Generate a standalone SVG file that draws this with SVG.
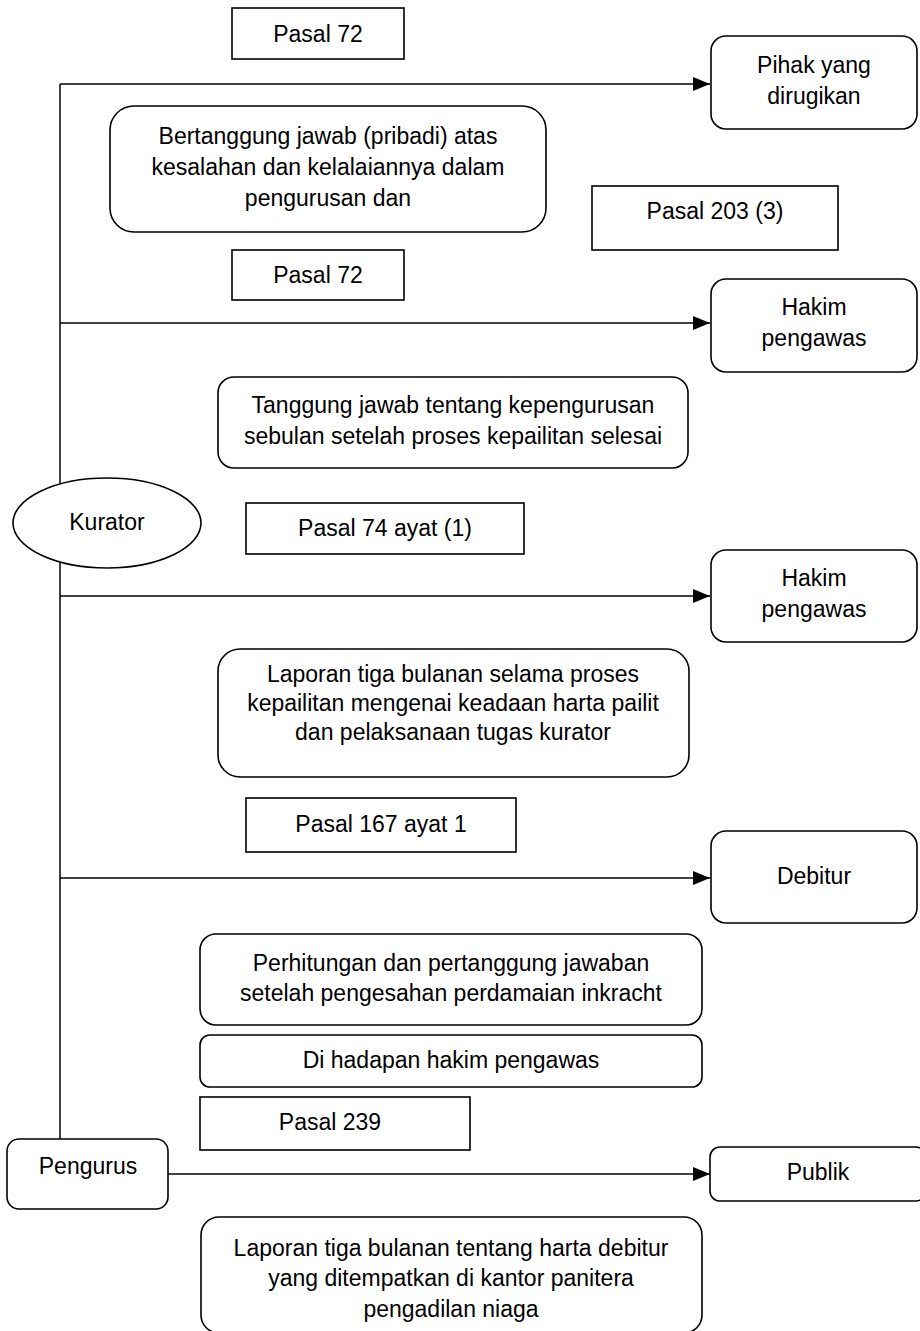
<svg xmlns="http://www.w3.org/2000/svg" width="920" height="1331" viewBox="0 0 920 1331">
  <style>
    .box { fill: #ffffff; stroke: #000000; stroke-width: 1.6; }
    .line { fill: none; stroke: #000000; stroke-width: 1.5; }
    text { font-family: "Liberation Sans", Arial, sans-serif; font-size: 23px; fill: #000000; text-anchor: middle; }
  </style>
  <defs>
    <marker id="arrow" viewBox="0 0 17 14" refX="17" refY="7" markerWidth="17" markerHeight="14" markerUnits="userSpaceOnUse" orient="auto">
      <path d="M0,0 L17,7 L0,14 Z" fill="#000000"/>
    </marker>
    <clipPath id="clip-laporan-publik">
      <rect x="201" y="1217" width="501" height="105"/>
    </clipPath>
  </defs>

  <!-- connectors -->
  <g id="connectors">
    <path class="line" d="M60,84 L60,1139"/>
    <path class="line" d="M60,84 L710,84" marker-end="url(#arrow)"/>
    <path class="line" d="M60,323 L710,323" marker-end="url(#arrow)"/>
    <path class="line" d="M60,596 L710,596" marker-end="url(#arrow)"/>
    <path class="line" d="M60,878 L710,878" marker-end="url(#arrow)"/>
    <path class="line" d="M168,1174 L710,1174" marker-end="url(#arrow)"/>
  </g>

  <!-- source nodes -->
  <g id="kurator">
    <ellipse class="box" cx="107" cy="523" rx="94" ry="45"/>
    <text x="107" y="530">Kurator</text>
  </g>
  <g id="pengurus">
    <rect class="box" x="7" y="1139" width="161" height="70" rx="12"/>
    <text x="88" y="1174">Pengurus</text>
  </g>

  <!-- target nodes -->
  <g id="pihak-dirugikan">
    <rect class="box" x="711" y="36" width="206" height="93" rx="15"/>
    <text x="814" y="73">Pihak yang</text>
    <text x="814" y="104">dirugikan</text>
  </g>
  <g id="hakim-pengawas-1">
    <rect class="box" x="711" y="279" width="206" height="93" rx="15"/>
    <text x="814" y="315">Hakim</text>
    <text x="814" y="346">pengawas</text>
  </g>
  <g id="hakim-pengawas-2">
    <rect class="box" x="711" y="550" width="206" height="92" rx="15"/>
    <text x="814" y="586">Hakim</text>
    <text x="814" y="617">pengawas</text>
  </g>
  <g id="debitur">
    <rect class="box" x="711" y="831" width="206" height="92" rx="15"/>
    <text x="814" y="884">Debitur</text>
  </g>
  <g id="publik">
    <rect class="box" x="710" y="1147" width="216" height="54" rx="10"/>
    <text x="818" y="1180">Publik</text>
  </g>

  <!-- article references -->
  <g id="pasal-72-a">
    <rect class="box" x="232" y="8" width="172" height="51"/>
    <text x="318" y="42">Pasal 72</text>
  </g>
  <g id="pasal-203-3">
    <rect class="box" x="592" y="186" width="246" height="64"/>
    <text x="715" y="219">Pasal 203 (3)</text>
  </g>
  <g id="pasal-72-b">
    <rect class="box" x="232" y="250" width="172" height="50"/>
    <text x="318" y="283">Pasal 72</text>
  </g>
  <g id="pasal-74">
    <rect class="box" x="246" y="503" width="278" height="51"/>
    <text x="385" y="536">Pasal 74 ayat (1)</text>
  </g>
  <g id="pasal-167">
    <rect class="box" x="246" y="798" width="270" height="54"/>
    <text x="381" y="832">Pasal 167 ayat 1</text>
  </g>
  <g id="pasal-239">
    <rect class="box" x="200" y="1097" width="270" height="53"/>
    <text x="330" y="1130">Pasal 239</text>
  </g>

  <!-- descriptions -->
  <g id="desc-tanggung-jawab-pribadi">
    <rect class="box" x="110" y="106" width="436" height="126" rx="24"/>
    <text x="328" y="144">Bertanggung jawab (pribadi) atas</text>
    <text x="328" y="175">kesalahan dan kelalaiannya dalam</text>
    <text x="328" y="206">pengurusan dan</text>
  </g>
  <g id="desc-tanggung-jawab-kepengurusan">
    <rect class="box" x="218" y="377" width="470" height="91" rx="16"/>
    <text x="453" y="413">Tanggung jawab tentang kepengurusan</text>
    <text x="453" y="444">sebulan setelah proses kepailitan selesai</text>
  </g>
  <g id="desc-laporan-kurator">
    <rect class="box" x="218" y="649" width="471" height="128" rx="22"/>
    <text x="453" y="682">Laporan tiga bulanan selama proses</text>
    <text x="453" y="711">kepailitan mengenai keadaan harta pailit</text>
    <text x="453" y="740">dan pelaksanaan tugas kurator</text>
  </g>
  <g id="desc-perhitungan">
    <rect class="box" x="200" y="934" width="502" height="91" rx="16"/>
    <text x="451" y="971">Perhitungan dan pertanggung jawaban</text>
    <text x="451" y="1001">setelah pengesahan perdamaian inkracht</text>
  </g>
  <g id="desc-di-hadapan">
    <rect class="box" x="200" y="1035" width="502" height="52" rx="10"/>
    <text x="451" y="1068">Di hadapan hakim pengawas</text>
  </g>
  <g id="desc-laporan-pengurus">
    <rect class="box" x="201" y="1217" width="501" height="116" rx="18"/>
    <g clip-path="url(#clip-laporan-publik)">
      <text x="451" y="1256">Laporan tiga bulanan tentang harta debitur</text>
      <text x="451" y="1286">yang ditempatkan di kantor panitera</text>
      <text x="451" y="1317">pengadilan niaga</text>
    </g>
  </g>
</svg>
